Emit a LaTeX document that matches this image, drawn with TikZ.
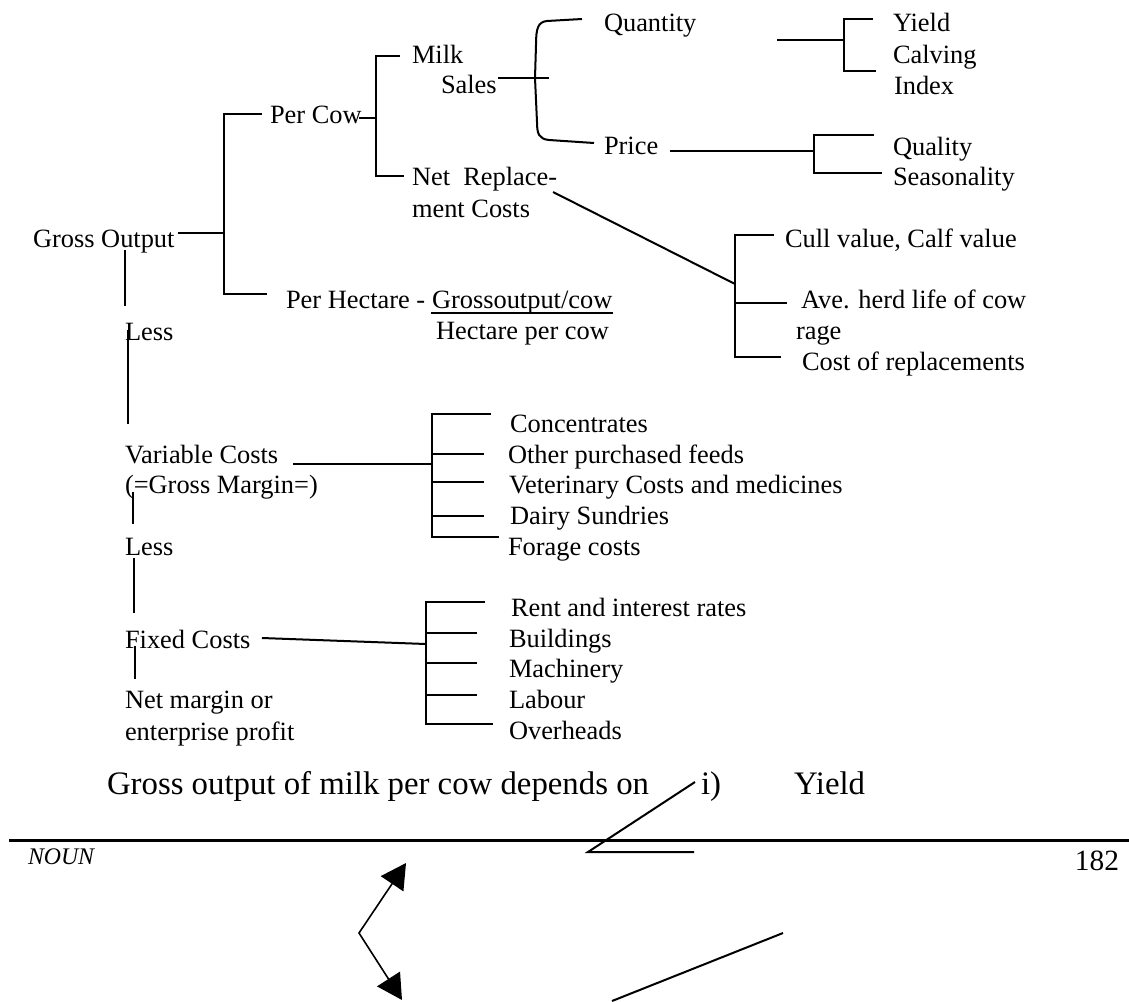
\documentclass[tikz,border=0pt]{standalone}
\usepackage{fontspec}
\setmainfont{Liberation Serif}
\usepackage{tikz}
\usetikzlibrary{arrows.meta}

\begin{document}
\begin{tikzpicture}[x=0.5pt,y=-0.5pt,line width=1pt,
    txt/.style={anchor=base west,inner sep=0pt,font=\fontsize{13.2}{15}\selectfont},
    big/.style={anchor=base west,inner sep=0pt,font=\fontsize{16.4}{19}\selectfont},
    bighead/.tip={Triangle[length=12.5pt,width=13.5pt]}]
		\useasboundingbox (0,0) rectangle (1129,1001);
		% left column
		\node[txt] (gross) at (32,247) {Gross Output};
		\node[txt] (lessa) at (124,340) {Less};
		\node[txt] (varc) at (124,463) {Variable Costs};
		\node[txt] (gm) at (124,493) {(=Gross Margin=)};
		\node[txt] (lessb) at (124,555) {Less};
		\node[txt] (fixed) at (124,648) {Fixed Costs};
		\node[txt] (netm) at (124,708) {Net margin or};
		\node[txt] (ent) at (124,740) {enterprise profit};
		% output branches
		\node[txt] (percow) at (269,123) {Per Cow};
		\node[txt] (perha) at (285,308) {Per Hectare -};
		\node[txt] (gocow) at (431,308) {Grossoutput/cow};
		\node[txt] (hacow) at (435,339) {Hectare per cow};
		\node[txt] (milk) at (411,63) {Milk};
		\node[txt] (sales) at (440,93) {Sales};
		\node[txt] (netrep) at (411,185) {Net~~Replace-};
		\node[txt] (mentc) at (411,217) {ment Costs};
		\node[txt] (qty) at (603,32) {Quantity};
		\node[txt] (price) at (603,154) {Price};
		\node[txt] (yield) at (892,32) {Yield};
		\node[txt] (calving) at (892,63) {Calving};
		\node[txt] (index) at (893,94) {Index};
		\node[txt] (quality) at (892,155) {Quality};
		\node[txt] (season) at (892,185) {Seasonality};
		\node[txt] (cull) at (784,247) {Cull value, Calf value};
		\node[txt] (herd) at (800,308) {Ave. herd life of cow};
		\node[txt] (rage) at (795,339) {rage};
		\node[txt] (repl) at (801,370) {Cost of replacements};
		% variable costs
		\node[txt] (conc) at (509,432) {Concentrates};
		\node[txt] (feeds) at (507,463) {Other purchased feeds};
		\node[txt] (vet) at (508,493) {Veterinary Costs and medicines};
		\node[txt] (sund) at (509,524) {Dairy Sundries};
		\node[txt] (forage) at (507,555) {Forage costs};
		% fixed costs
		\node[txt] (rent) at (510,616) {Rent and interest rates};
		\node[txt] (build) at (508,647) {Buildings};
		\node[txt] (mach) at (508,677) {Machinery};
		\node[txt] (labour) at (508,708) {Labour};
		\node[txt] (over) at (508,739) {Overheads};
		% bottom
		\node[big] (depends) at (106,794) {Gross output of milk per cow depends on};
		\node[big] (item) at (700,794) {i)};
		\node[big] (yieldb) at (793,794) {Yield};
		\node[anchor=base west,inner sep=0pt,font=\fontsize{11.9}{14}\selectfont\itshape] (noun) at (27,864) {NOUN};
		\node[anchor=base east,inner sep=0pt,font=\fontsize{14.7}{17}\selectfont] (page) at (1120,870) {182};
		% bracket spines
		\coordinate (gT) at (224,114); \coordinate (gB) at (224,294);
		\coordinate (cT) at (376,56); \coordinate (cB) at (376,176);
		\coordinate (qT) at (844,19); \coordinate (qB) at (844,71);
		\coordinate (pT) at (814,135); \coordinate (pB) at (814,173);
		\coordinate (rT) at (735,235); \coordinate (rB) at (735,357);
		\coordinate (vT) at (432,414); \coordinate (vB) at (432,537);
		\coordinate (fT) at (426,602); \coordinate (fB) at (426,724);
		% tree lines
		\draw (178,233) -- (gT |- 0,233);
		\draw (gT) ++(38,0) -- (gT) -- (gB) -- ++(43,0);
		\draw (359,118) -- (cT |- 0,118);
		\draw (cT) ++(24,0) -- (cT) -- (cB) -- ++(28,0);
		\draw (498,78) -- (549,78);
		\draw (582,19) -- (547,21) .. controls (538,22) and (536,28) .. (536,45)
			-- (535,78) -- (537,122) .. controls (537,134) and (539,139) .. (549,140) -- (594,143);
		\draw (777,40) -- (qT |- 0,40);
		\draw (qT) ++(29,0) -- (qT) -- (qB) -- ++(32,0);
		\draw (670,151) -- (pT |- 0,151);
		\draw (pT) ++(60,0) -- (pT) -- (pB) -- ++(68,0);
		\draw (553,192) -- (735,284);
		\draw (rT) ++(39,0) -- (rT) -- (rB) -- ++(46,0);
		\draw (rT |- 0,303) -- ++(52,0);
		\draw ([yshift=-2.5pt]gocow.base west) -- ([yshift=-2.5pt]gocow.base east);
		% left column lines
		\draw (125,250) -- (125,306);
		\draw (127.5,330) -- (127.5,424);
		\draw (133,492) -- (133,524);
		\draw (134,558) -- (134,613);
		\draw (135,646) -- (135,679);
		% cost brackets
		\draw (293,464) -- (vT |- 0,464);
		\draw (vT) ++(59,0) -- (vT) -- (vB) -- ++(67,0);
		\foreach \yy in {454,482,516} \draw (vT |- 0,\yy) -- ++(52,0);
		\draw (262,638) -- (fT |- 0,644);
		\draw (fT) ++(59,0) -- (fT) -- (fB) -- ++(67,0);
		\foreach \yy in {633,663,695} \draw (fT |- 0,\yy) -- ++(51,0);
		% page rule and stray marks
		\draw[line width=1.5pt] (9,840) -- (1129,840);
		\draw (695,782) -- (588,852) -- (694,852);
		\draw[line width=0.8pt,bighead-bighead] (406,863) -- (359,933) -- (402,1000);
		\draw (783,933) -- (612,1001);
	\end{tikzpicture}
\end{document}
